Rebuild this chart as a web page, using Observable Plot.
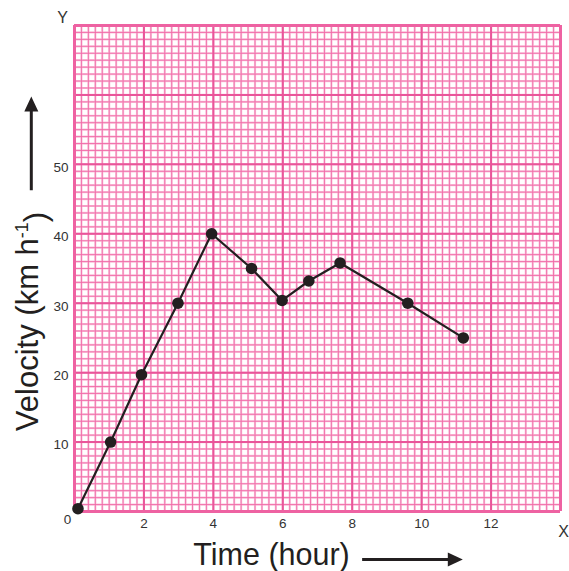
<!DOCTYPE html>
<html>
<head>
<meta charset="utf-8">
<script src="https://cdn.jsdelivr.net/npm/d3@7"></script>
<script src="https://cdn.jsdelivr.net/npm/@observablehq/plot@0.6"></script>
<style>
  html, body { margin: 0; padding: 0; background: #fff; }
</style>
</head>
<body>
<div id="chart"></div>
<script>
// Data
const timeHours = [0.1, 1.04, 1.93, 2.98, 3.95, 5.1, 5.98, 6.75, 7.65, 9.6, 11.2];
const velocity  = [0.4, 10, 19.7, 30, 40, 35, 30.4, 33.2, 35.8, 30, 25];
const xTicks = [2, 4, 6, 8, 10, 12];
const yTicks = [10, 20, 30, 40, 50];
const xTitle = "Time (hour)";
const yTitle = "Velocity (km h-1)";

const data = timeHours.map((t, i) => ({t, v: velocity[i]}));

// graph-paper grid
const minorX = d3.range(0, 14.0001, 0.2).map(d => +d.toFixed(2));
const minorY = d3.range(0, 70.0001, 1);
const majorX = d3.range(0, 14.0001, 2);
const majorY = d3.range(0, 70.0001, 10);

const font = "'Liberation Sans', Arial, Helvetica, sans-serif";

const chart = Plot.plot({
  width: 569,
  height: 571,
  marginLeft: 74,
  marginRight: 9,
  marginTop: 25,
  marginBottom: 60,
  x: {domain: [0, 14]},
  y: {domain: [0, 70]},
  style: {fontFamily: font, background: "#fff", overflow: "visible"},
  marks: [
    Plot.ruleX(minorX, {stroke: "#fac6dd", strokeWidth: 2.2}),
    Plot.ruleY(minorY, {stroke: "#fac6dd", strokeWidth: 2.2}),
    Plot.ruleX(minorX, {stroke: "#f06ba8", strokeWidth: 0.9}),
    Plot.ruleY(minorY, {stroke: "#f06ba8", strokeWidth: 0.9}),
    Plot.ruleX(majorX, {stroke: "#e9559a", strokeWidth: 2}),
    Plot.ruleY(majorY, {stroke: "#e9559a", strokeWidth: 2}),
    Plot.ruleX([0, 14], {stroke: "#ee62a2", strokeWidth: 3}),
    Plot.ruleY([0, 70], {stroke: "#ee62a2", strokeWidth: 3}),
    Plot.axisX(xTicks, {tickSize: 0, tickPadding: 7, fontSize: 13.5, fill: "#333", label: null}),
    Plot.axisY(yTicks, {tickSize: 0, tickPadding: 6, fontSize: 13.5, fill: "#333", label: null, dy: 3}),
    Plot.text(["0"], {frameAnchor: "bottom-left", dx: -7, dy: 8, fontSize: 13.5, fill: "#333", textAnchor: "middle", lineAnchor: "middle"}),
    Plot.text(["Y"], {frameAnchor: "top-left", dx: -12, dy: -8, fontSize: 16, fill: "#333", textAnchor: "middle", lineAnchor: "middle"}),
    Plot.text(["X"], {frameAnchor: "bottom-right", dx: 3, dy: 20, fontSize: 16, fill: "#333", textAnchor: "middle", lineAnchor: "middle"}),
    Plot.text([xTitle], {frameAnchor: "bottom", dx: -46, dy: 44, fontSize: 30.5, fill: "#231f20", textAnchor: "middle", lineAnchor: "middle"}),
    Plot.text([yTitle], {frameAnchor: "left", dx: -46, dy: 53, rotate: -90, fontSize: 31, fill: "#231f20", textAnchor: "middle", lineAnchor: "middle"}),
    Plot.line(data, {x: "t", y: "v", stroke: "#231f20", strokeWidth: 2.2}),
    Plot.dot(data, {x: "t", y: "v", r: 5.8, fill: "#231f20", stroke: "none"})
  ]
});

document.getElementById("chart").appendChild(chart);

// superscript for h^-1
const svg = d3.select(chart);
svg.selectAll("text").each(function() {
  const el = d3.select(this);
  if (el.text() === yTitle) {
    el.text(null);
    el.append("tspan").text("Velocity (km h");
    el.append("tspan").attr("font-size", 18).attr("dy", "-0.6em").text("-1");
    el.append("tspan").attr("dy", "0.6em").text(")");
  }
});

// direction arrows, placed via the chart scales
const sx = chart.scale("x"), sy = chart.scale("y");
const arrows = svg.append("g").attr("fill", "#231f20").attr("stroke", "#231f20");
// x arrow
{
  const x1 = sx.apply(8.3), x2 = sx.apply(11.2), y = sy.apply(-7);
  arrows.append("line").attr("x1", x1).attr("x2", x2 - 12).attr("y1", y).attr("y2", y).attr("stroke-width", 3);
  arrows.append("path").attr("stroke", "none").attr("d", `M${x2},${y} L${x2 - 15},${y - 7} L${x2 - 15},${y + 7} Z`);
}
// y arrow
{
  const x = sx.apply(-1.23), y1 = sy.apply(46.2), y2 = sy.apply(59.7);
  arrows.append("line").attr("x1", x).attr("x2", x).attr("y1", y1).attr("y2", y2 + 12).attr("stroke-width", 3);
  arrows.append("path").attr("stroke", "none").attr("d", `M${x},${y2} L${x - 7},${y2 + 15} L${x + 7},${y2 + 15} Z`);
}
</script>
</body>
</html>
